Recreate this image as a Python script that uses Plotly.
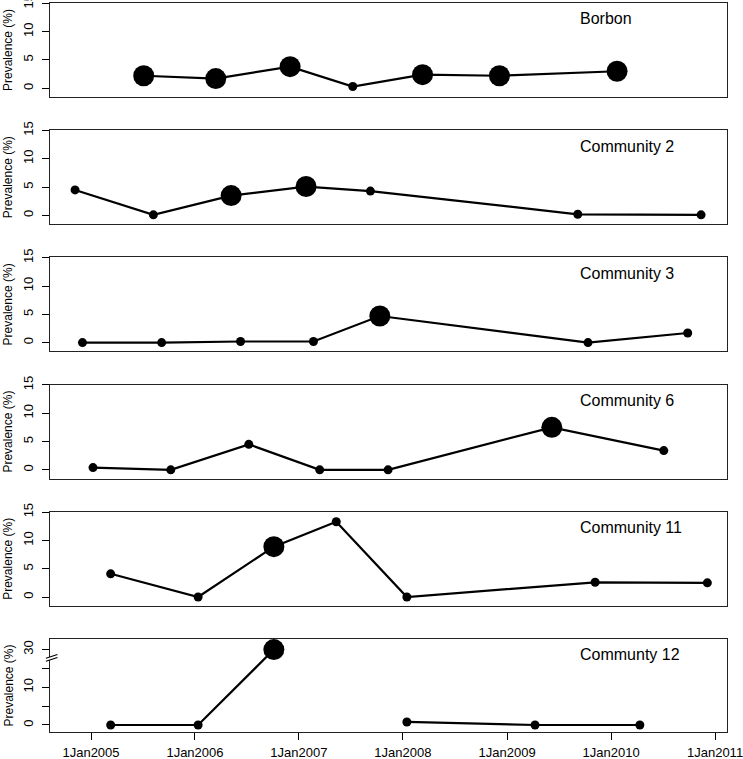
import plotly.graph_objects as go

# ---------------- data ----------------
panel_names = ["Borbon", "Community 2", "Community 3", "Community 6",
               "Community 11", "Communty 12"]

borbon_dates = ["2005-07-05", "2006-03-15", "2006-12-01", "2007-07-09",
                "2008-03-10", "2008-12-05", "2010-01-22"]
borbon_prev = [2.2, 1.7, 3.8, 0.3, 2.4, 2.2, 3.0]
borbon_large = [1, 1, 1, 0, 1, 1, 1]

c2_dates = ["2004-11-06", "2005-08-08", "2006-05-08", "2007-01-26",
            "2007-09-09", "2009-09-06", "2010-11-13"]
c2_prev = [4.5, 0.1, 3.5, 5.1, 4.3, 0.2, 0.1]
c2_large = [0, 0, 1, 1, 0, 0, 0]

c3_dates = ["2004-12-02", "2005-09-06", "2006-06-10", "2007-02-21",
            "2007-10-12", "2009-10-12", "2010-09-27"]
c3_prev = [0.0, 0.0, 0.2, 0.2, 4.7, 0.0, 1.7]
c3_large = [0, 0, 0, 0, 1, 0, 0]

c6_dates = ["2005-01-08", "2005-10-08", "2006-07-09", "2007-03-15",
            "2007-11-10", "2009-06-07", "2010-07-05"]
c6_prev = [0.4, 0.0, 4.5, 0.0, 0.0, 7.5, 3.4]
c6_large = [0, 0, 0, 0, 0, 1, 0]

c11_dates = ["2005-03-11", "2006-01-12", "2006-10-05", "2007-05-12",
             "2008-01-15", "2009-11-06", "2010-12-05"]
c11_prev = [4.1, 0.0, 8.9, 13.3, 0.0, 2.6, 2.5]
c11_large = [0, 0, 1, 0, 0, 0, 0]

c12_dates = ["2005-03-11", "2006-01-12", "2006-10-05", "2007-05-12",
             "2008-01-15", "2009-04-09", "2010-04-12"]
c12_prev = [0.0, 0.0, 30.0, None, 0.8, 0.0, 0.0]
c12_large = [0, 0, 1, 0, 0, 0, 0]

x_tick_dates = ["2005-01-01", "2006-01-01", "2007-01-01", "2008-01-01",
                "2009-01-01", "2010-01-01", "2011-01-01"]
x_tick_labels = ["1Jan2005", "1Jan2006", "1Jan2007", "1Jan2008",
                 "1Jan2009", "1Jan2010", "1Jan2011"]

y_ticks = [0, 5, 10, 15]
y_tick_labels = ["0", "5", "10", "15"]
# last panel uses a broken axis: values above the break are shifted down
break_shift = 10
y12_ticks = [0, 5, 10, 15, 30]
y12_tick_labels = ["0", "", "10", "", "30"]

series = [
    (borbon_dates, borbon_prev, borbon_large),
    (c2_dates, c2_prev, c2_large),
    (c3_dates, c3_prev, c3_large),
    (c6_dates, c6_prev, c6_large),
    (c11_dates, c11_prev, c11_large),
    (c12_dates, c12_prev, c12_large),
]

# ---------------- layout helpers ----------------
W, H = 743, 759
ML, MR, MT, MB = 50, 16, 3, 27
plot_h = H - MT - MB
pitch = 127.2
panel_h = 94

FONT = "Liberation Sans, Arial, Helvetica, sans-serif"
BIG, SMALL = 21, 9

fig = go.Figure()
layout = {}
annotations = []
shapes = []

def to_break(v):
    if v is None:
        return None
    return v - break_shift if v > 17.5 else v

for k, (dates, prev, large) in enumerate(series):
    idx = "" if k == 0 else str(k + 1)
    last = (k == len(series) - 1)
    yvals = [to_break(v) for v in prev] if last else prev
    sizes = [BIG if b else SMALL for b in large]
    fig.add_trace(go.Scatter(
        x=dates, y=yvals, mode="lines+markers",
        line=dict(color="black", width=2.2),
        marker=dict(color="black", size=sizes, opacity=1, line=dict(width=0)),
        connectgaps=False, showlegend=False, cliponaxis=False,
        hoverinfo="skip",
        xaxis="x" + idx, yaxis="y" + idx,
    ))
    top_px = k * pitch
    bot_px = top_px + panel_h
    dom = [max(0, 1 - bot_px / plot_h), 1 - top_px / plot_h]

    layout["xaxis" + idx] = dict(
        domain=[0, 1], anchor="y" + idx, automargin=False,
        type="date", range=["2004-08-10", "2011-02-12"],
        tickvals=x_tick_dates, ticktext=x_tick_labels,
        ticks="outside" if last else "", ticklen=7, tickwidth=1,
        tickcolor="black", ticklabeloverflow="allow",
        ticklabelstandoff=1,
        showticklabels=last,
        tickfont=dict(family=FONT, size=13, color="black"),
        showgrid=False, zeroline=False,
        showline=True, mirror=True, linecolor="#222", linewidth=1.3,
        **({} if k == 0 else {"matches": "x"}),
    )
    if last:
        yr = [-1.86, 22.8]
        tv = [to_break(v) for v in y12_ticks]
        tt = y12_tick_labels
    else:
        yr = [-1.55, 15.05]
        tv = y_ticks
        tt = y_tick_labels
    layout["yaxis" + idx] = dict(
        domain=dom, anchor="x" + idx, range=yr, automargin=False,
        tickvals=tv, ticktext=tt, tickangle=-90, ticklabeloverflow="allow",
        ticklabelstandoff=4,
        ticks="outside", ticklen=7, tickwidth=1, tickcolor="black",
        tickfont=dict(family=FONT, size=13, color="black"),
        showgrid=False, zeroline=False,
        showline=True, mirror=True, linecolor="#222", linewidth=1.3,
    )
    annotations.append(dict(
        text=panel_names[k], xref="paper", x=(578 - ML) / (W - ML - MR),
        xanchor="left", yref="y" + idx + " domain", y=1 - 16 / panel_h,
        yanchor="middle", showarrow=False,
        font=dict(family=FONT, size=16, color="black"),
    ))
    annotations.append(dict(
        text="Prevalence (%)", textangle=-90, xref="paper",
        x=(8 - ML) / (W - ML - MR), xanchor="center",
        yref="y" + idx + " domain", y=0.5, yanchor="middle",
        showarrow=False, font=dict(family=FONT, size=12, color="black"),
    ))

# axis break marks on last panel
x0b, x1b = -0.006, 0.011
shapes.append(dict(type="path", xref="paper", yref="y6",
                   path=f"M {x0b},16.9 L {x1b},17.9 L {x1b},18.7 L {x0b},17.7 Z",
                   fillcolor="white", line=dict(width=0), layer="above"))
for yy in (16.9, 17.7):
    shapes.append(dict(type="line", xref="paper", yref="y6",
                       x0=x0b, x1=x1b, y0=yy, y1=yy + 1.0,
                       line=dict(color="black", width=1.2), layer="above"))

fig.update_layout(
    width=W, height=H,
    margin=dict(l=ML, r=MR, t=MT, b=MB, autoexpand=False),
    paper_bgcolor="white", plot_bgcolor="white",
    annotations=annotations, shapes=shapes,
    hovermode=False,
    **layout,
)

fig.write_html(
    "out.html",
    config={"displayModeBar": False},
    post_script="document.body.style.margin='0';"
                "document.body.style.overflow='hidden';",
)
